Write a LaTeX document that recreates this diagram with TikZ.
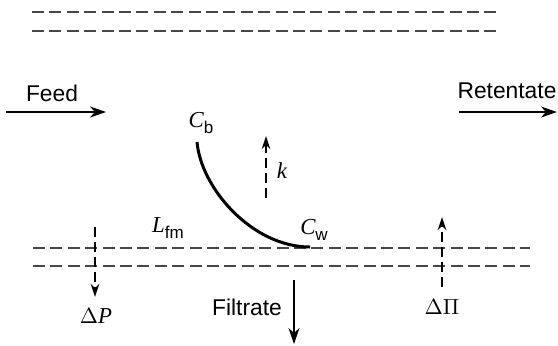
\documentclass[tikz,border=0pt]{standalone}
\usepackage{fontspec}
\setmainfont{Liberation Sans}
\newfontfamily\tms{Liberation Serif}
\usetikzlibrary{arrows.meta}
\newcommand{\quant}[2]{{\tms\itshape #1}\raisebox{-0.5ex}{\fontsize{8.5}{10}\selectfont #2}}
\begin{document}
\begin{tikzpicture}[x=0.5pt,y=-0.5pt,
  every node/.style={font=\fontsize{11.4}{13}\selectfont,inner sep=0pt},
  wall/.style={draw=black!72,line width=0.65pt,dash pattern=on 6pt off 2.7pt},
  flow/.style={line width=1pt,-{Stealth[length=8pt,width=5.5pt,inset=2.5pt]}},
  flux/.style={line width=1.15pt,dash pattern=on 5pt off 2.5pt,-{Stealth[length=6.5pt,width=4.2pt,inset=2pt]}}]
\useasboundingbox (0,0) rectangle (558,345);
% membrane walls
\draw[wall] (32,12) -- (497,12);
\draw[wall] (32,31) -- (497,31);
\draw[wall] (33,248) -- (530,248);
\draw[wall] (33,266) -- (530,266);
% bulk flow
\coordinate (feedin) at (6,112);
\coordinate (feedout) at (106,112);
\draw[flow] (feedin) -- (feedout);
\node (feed) at (52,93) {Feed};
\coordinate (retin) at (459,112);
\coordinate (retout) at (557,112);
\draw[flow] (retin) -- (retout);
\node (ret) at (507,91) {Retentate};
% concentration profile
\node (cb) at (201,123) {\quant{C}{b}};
\node (cw) at (314,230) {\quant{C}{w}};
\coordinate (bulk) at (197,142);
\coordinate (wallpt) at (310,247);
\draw[line width=1.5pt] (bulk) .. controls (201,188) and (252,247) .. (wallpt);
% mass transfer
\coordinate (kfrom) at (266,198);
\coordinate (kto) at (266,136);
\draw[flux] (kfrom) -- (kto);
\node (k) at (282,171) {{\tms\itshape k}};
\node (lfm) at (168,228) {\quant{L}{fm}};
% pressures
\coordinate (pfrom) at (95,227);
\coordinate (pto) at (95,297);
\draw[flux] (pfrom) -- (pto);
\node (dp) at (96,316) {{\tms $\Delta$\itshape P}};
\coordinate (pifrom) at (442,287);
\coordinate (pito) at (442,217);
\draw[flux] (pifrom) -- (pito);
\node (dpi) at (442,307) {{\tms $\Delta\Pi$}};
% permeate
\coordinate (filtin) at (294,280);
\coordinate (filtout) at (294,344);
\draw[flow] (filtin) -- (filtout);
\node (filt) at (247,307) {Filtrate};
\end{tikzpicture}
\end{document}
